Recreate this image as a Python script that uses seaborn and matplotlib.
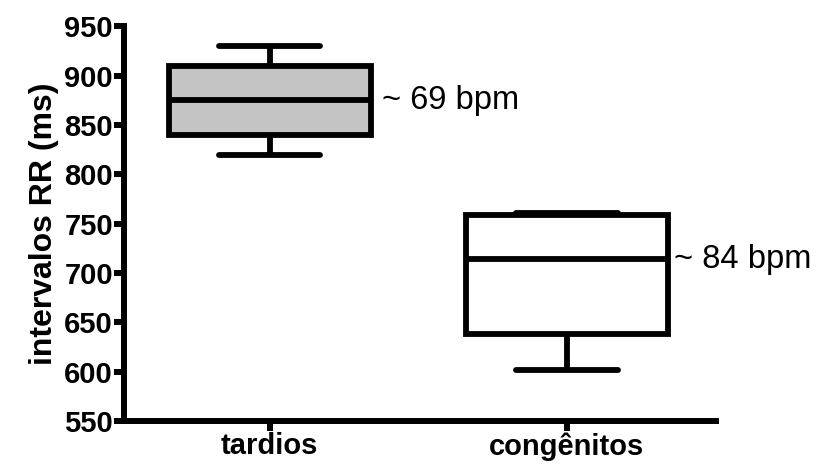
import numpy as np
import pandas as pd
import matplotlib
matplotlib.use("Agg")
import matplotlib.pyplot as plt
import seaborn as sns

# RR interval samples (ms) per group: min, Q1, median, Q3, max
categories = ["tardios", "congênitos"]
tardios_rr = [820, 840, 875, 910, 930]
congenitos_rr = [602, 638, 714, 759, 761]
bpm_labels = ["~ 69 bpm", "~ 84 bpm"]
y_ticks = [550, 600, 650, 700, 750, 800, 850, 900, 950]

df = pd.DataFrame({
    "grupo": [categories[0]] * len(tardios_rr) + [categories[1]] * len(congenitos_rr),
    "rr": tardios_rr + congenitos_rr,
})

sns.set_theme(style="ticks")
plt.rcParams["font.family"] = ["Liberation Sans", "DejaVu Sans"]
plt.rcParams["text.color"] = "black"
plt.rcParams["xtick.color"] = "black"
plt.rcParams["ytick.color"] = "black"
plt.rcParams["axes.labelcolor"] = "black"

fig = plt.figure(figsize=(8.16, 4.68), dpi=100)
ax = fig.add_axes([0.152, 0.1004, 0.725, 0.8436])

sns.boxplot(
    data=df, x="grupo", y="rr", hue="grupo", order=categories,
    palette={categories[0]: "#c4c4c4", categories[1]: "white"},
    linecolor="black", linewidth=4.2, width=0.68, whis=np.inf,
    legend=False, saturation=1, ax=ax,
    capprops={"solid_capstyle": "round"},
    whiskerprops={"solid_capstyle": "butt"},
)

ax.set_xlim(-0.49, 1.50)
ax.set_ylim(550, 950)
ax.set_yticks(y_ticks)
ax.set_yticklabels([str(t) for t in y_ticks], fontsize=21, fontweight="bold")
ax.set_xticks([0, 1])
ax.set_xticklabels(categories, fontsize=21, fontweight="bold")
ax.set_xlabel("")
ax.set_ylabel("intervalos RR (ms)", fontsize=23, fontweight="bold", labelpad=4)

for side in ["top", "right"]:
    ax.spines[side].set_visible(False)
for side in ["left", "bottom"]:
    ax.spines[side].set_linewidth(4.3)
    ax.spines[side].set_color("black")
ax.tick_params(axis="both", length=7, width=4.3, color="black", pad=1)

# Heart-rate annotation beside each median
medians = [np.median(tardios_rr), np.median(congenitos_rr)]
offsets = [8, 4]
for i, (m, lab, off) in enumerate(zip(medians, bpm_labels, offsets)):
    ax.annotate(lab, xy=(i + 0.34, m), xytext=(off, 0), textcoords="offset points",
                va="center", ha="left", fontsize=23.5)

fig.savefig("out.png", dpi=100)
